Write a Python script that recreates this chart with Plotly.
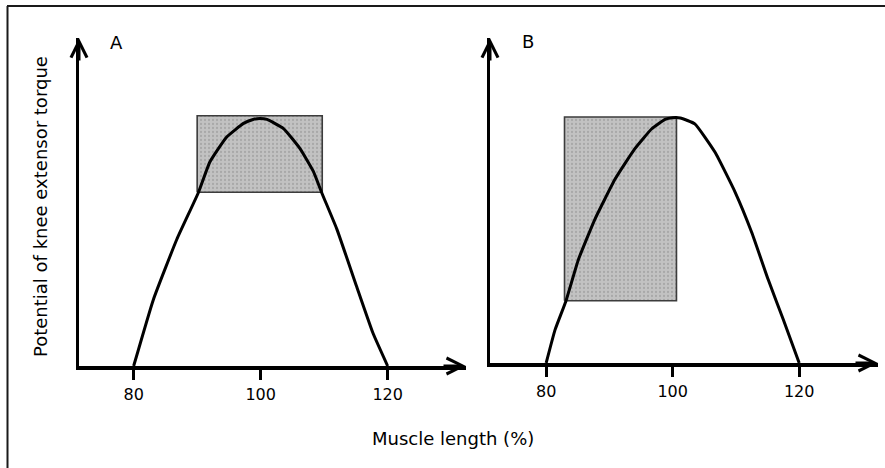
import plotly.graph_objects as go

# ---- data ----
tick_vals = [80, 100, 120]
tick_text = ["80", "100", "120"]

a_x = [80, 83.1, 86.8, 90.2, 92.0, 94.65, 97.3, 98.8, 99.9, 101.0, 103.6, 106.2, 108.3, 109.6, 112.0, 115.1, 117.7, 120.0]
a_y = [0.0, 0.268, 0.512, 0.701, 0.824, 0.925, 0.980, 0.996, 1.0, 0.996, 0.959, 0.878, 0.786, 0.701, 0.553, 0.322, 0.132, 0.0]

b_x = [80, 81.4, 83.1, 85.1, 87.7, 90.9, 94.0, 96.7, 98.8, 100.0, 101.2, 103.5, 106.7, 109.9, 112.5, 115.1, 117.5, 120.0]
b_y = [0.0, 0.135, 0.251, 0.422, 0.586, 0.750, 0.873, 0.955, 0.993, 1.0, 0.999, 0.975, 0.859, 0.695, 0.532, 0.340, 0.176, 0.0]

a_box_x = [90.0, 109.7]
a_box_y = [0.702, 1.011]
b_box_x = [82.9, 100.6]
b_box_y = [0.254, 1.003]

panel_labels = ["A", "B"]
x_title = "Muscle length (%)"
y_title = "Potential of knee extensor torque"

W, H = 885, 468
x_range_a = [71.39, 132.34]
x_range_b = [71.12, 132.46]
y_range = [0, 1.325]

FONT = "DejaVu Sans, Verdana, sans-serif"


def px_x(p):
    return p / W


def px_y(p):
    return 1 - p / H


fig = go.Figure()

box_fill = "#c2c2c2"
box_line = "#3c3c3c"

for i, (bx, by, cx, cy) in enumerate([(a_box_x, a_box_y, a_x, a_y), (b_box_x, b_box_y, b_x, b_y)]):
    xa = "x" if i == 0 else "x2"
    ya = "y" if i == 0 else "y2"
    fig.add_trace(go.Scatter(
        x=[bx[0], bx[1], bx[1], bx[0], bx[0]],
        y=[by[0], by[0], by[1], by[1], by[0]],
        mode="lines", fill="toself", fillcolor=box_fill,
        fillpattern=dict(shape=".", fgcolor="#8e8e8e", bgcolor=box_fill, size=4, solidity=0.25),
        line=dict(color=box_line, width=1.6),
        xaxis=xa, yaxis=ya, showlegend=False, hoverinfo="skip"))
    fig.add_trace(go.Scatter(
        x=cx, y=cy, mode="lines",
        line=dict(color="black", width=3, shape="spline", smoothing=0.4),
        xaxis=xa, yaxis=ya, showlegend=False, hoverinfo="skip"))

xaxis_common = dict(showgrid=False, zeroline=False, showline=True, linecolor="black", linewidth=3.5,
                    tickvals=tick_vals, ticktext=tick_text, ticks="outside", ticklen=10,
                    tickwidth=3, tickcolor="black", ticklabelstandoff=1,
                    tickfont=dict(family=FONT, size=16, color="black"))
yaxis_common = dict(showgrid=False, zeroline=False, showline=True, linecolor="black", linewidth=3,
                    showticklabels=False, ticks="")

fig.update_layout(
    width=W, height=H,
    margin=dict(l=0, r=0, t=0, b=0),
    paper_bgcolor="white", plot_bgcolor="rgba(0,0,0,0)",
    font=dict(family=FONT, color="black", size=16),
    xaxis=dict(domain=[px_x(79), px_x(466)], range=x_range_a, anchor="y", **xaxis_common),
    yaxis=dict(domain=[px_y(366), px_y(38)], range=y_range, anchor="x", **yaxis_common),
    xaxis2=dict(domain=[px_x(490), px_x(878)], range=x_range_b, anchor="y2", **xaxis_common),
    yaxis2=dict(domain=[px_y(363), px_y(38)], range=y_range, anchor="x2", **yaxis_common),
)

anns = []
for xr, yr in [("x", "y"), ("x2", "y2")]:
    # x-axis arrowhead
    anns.append(dict(x=1, y=0, xref=f"{xr} domain", yref=f"{yr} domain", ax=-24, ay=0,
                     axref="pixel", ayref="pixel", text="", showarrow=True,
                     arrowhead=5, arrowsize=1.05, arrowwidth=3, arrowcolor="black"))
    # y-axis arrowhead
    anns.append(dict(x=0, y=1, xref=f"{xr} domain", yref=f"{yr} domain", ax=0, ay=24,
                     axref="pixel", ayref="pixel", text="", showarrow=True,
                     arrowhead=5, arrowsize=1.05, arrowwidth=3, arrowcolor="black"))

anns.append(dict(x=px_x(116), y=px_y(42), xref="paper", yref="paper", text=panel_labels[0],
                 showarrow=False, font=dict(size=18), xanchor="center", yanchor="middle"))
anns.append(dict(x=px_x(528), y=px_y(41), xref="paper", yref="paper", text=panel_labels[1],
                 showarrow=False, font=dict(size=18), xanchor="center", yanchor="middle"))
anns.append(dict(x=px_x(453), y=px_y(438), xref="paper", yref="paper", text=x_title,
                 showarrow=False, font=dict(size=18), xanchor="center", yanchor="middle"))
anns.append(dict(x=px_x(40), y=px_y(207), xref="paper", yref="paper", text=y_title,
                 showarrow=False, font=dict(size=18), textangle=-90,
                 xanchor="center", yanchor="middle"))
fig.update_layout(annotations=anns)

# outer frame (top and left edges visible in the picture)
fig.add_shape(type="line", xref="paper", yref="paper", x0=px_x(7), x1=1, y0=px_y(6), y1=px_y(6),
              line=dict(color="#1a1a1a", width=2))
fig.add_shape(type="line", xref="paper", yref="paper", x0=px_x(7.5), x1=px_x(7.5), y0=px_y(6), y1=0,
              line=dict(color="#1a1a1a", width=2))

fig.write_html("out.html", config={"displayModeBar": False},
               post_script="document.body.style.margin='0px';")
